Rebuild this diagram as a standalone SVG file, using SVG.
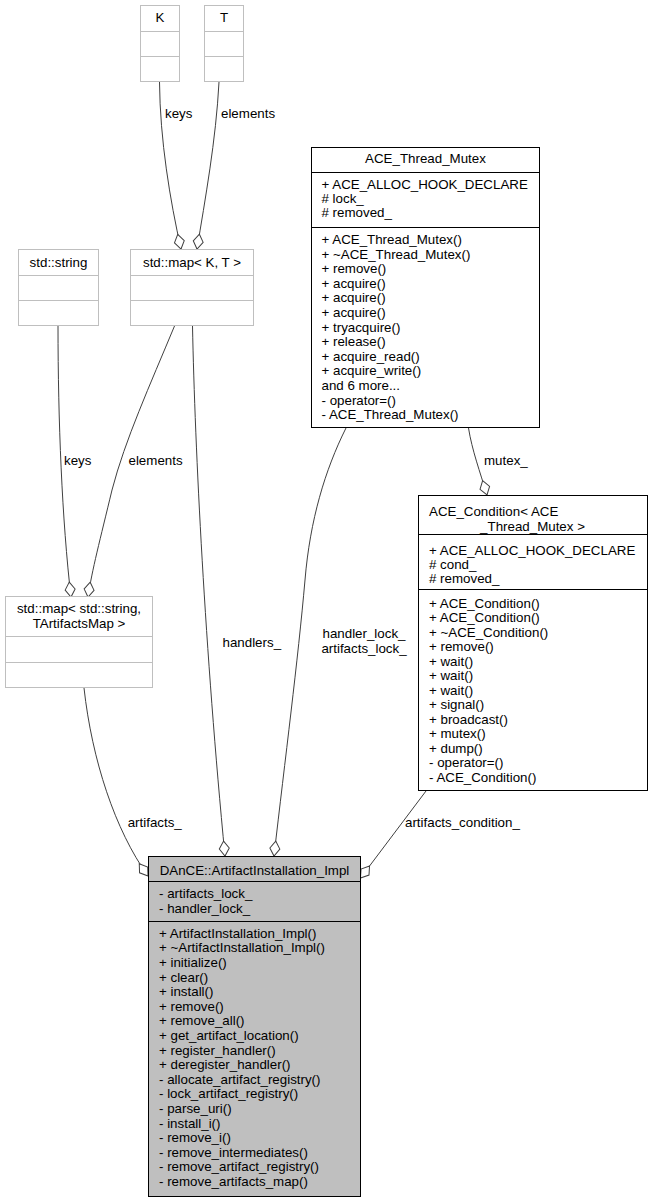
<svg xmlns="http://www.w3.org/2000/svg" width="653" height="1203" viewBox="0 0 653 1203">
<style>
text{font-family:"Liberation Sans",Arial,Helvetica,sans-serif;font-size:13.33px;fill:#000}
.c{text-anchor:middle}
.gb{fill:#fff;stroke:#bfbfbf;stroke-width:1}
.gl{stroke:#bfbfbf;stroke-width:1}
.bb{fill:#fff;stroke:#000;stroke-width:1}
.mb{fill:#bfbfbf;stroke:#000;stroke-width:1}
.bl{stroke:#000;stroke-width:1}
.e{fill:none;stroke:#404040;stroke-width:1;marker-end:url(#od)}
</style>
<defs>
<marker id="od" viewBox="-1 -6 17 12" refX="15" refY="0" markerWidth="17" markerHeight="12" orient="auto" markerUnits="userSpaceOnUse">
<path d="M0,0 L7.5,-5 L15,0 L7.5,5 Z" fill="#fff" stroke="#404040" stroke-width="1"/>
</marker>
</defs>
<rect width="653" height="1203" fill="#fff"/>

<g id="edges">
<path class="e" d="M159.5,82 C160,140 170,200 181,249"/>
<text x="165" y="118.3">keys</text>
<path class="e" d="M219,82 C216,140 205,200 197,249"/>
<text x="221" y="118.3">elements</text>
<path class="e" d="M58,326 C58,420 62,520 71,597"/>
<text x="64" y="465">keys</text>
<path class="e" d="M174.5,326 C150,385 125,440 112,490 C100,540 92,570 88,597"/>
<text x="128.5" y="465">elements</text>
<path class="e" d="M192.5,326 C195,450 205,650 225,856"/>
<text x="222.5" y="646.7">handlers_</text>
<path class="e" d="M346,428 C325,470 310,520 305,580 C298,660 285,760 274,856"/>
<text class="c" x="364" y="638.3">handler_lock_</text>
<text class="c" x="364" y="652.7">artifacts_lock_</text>
<path class="e" d="M468.5,428 C472,450 480,472 487,495"/>
<text x="484" y="465">mutex_</text>
<path class="e" d="M426,791 L360.5,878"/>
<text x="405" y="827.3">artifacts_condition_</text>
<path class="e" d="M84,688 C92,760 115,830 148,876"/>
<text x="127.7" y="826.7">artifacts_</text>
</g>

<g id="K">
<rect class="gb" x="140.5" y="5.5" width="39" height="76"/>
<line class="gl" x1="140.5" y1="31.5" x2="179.5" y2="31.5"/>
<line class="gl" x1="140.5" y1="56.5" x2="179.5" y2="56.5"/>
<text class="c" x="160" y="21.7">K</text>
</g>

<g id="T">
<rect class="gb" x="204.5" y="5.5" width="39" height="76"/>
<line class="gl" x1="204.5" y1="31.5" x2="243.5" y2="31.5"/>
<line class="gl" x1="204.5" y1="56.5" x2="243.5" y2="56.5"/>
<text class="c" x="224" y="21.7">T</text>
</g>

<g id="std_string">
<rect class="gb" x="18.5" y="249.5" width="80" height="76"/>
<line class="gl" x1="18.5" y1="275.5" x2="98.5" y2="275.5"/>
<line class="gl" x1="18.5" y1="300.5" x2="98.5" y2="300.5"/>
<text class="c" x="58.5" y="266.5">std::string</text>
</g>

<g id="std_map_KT">
<rect class="gb" x="130.5" y="249.5" width="123" height="76"/>
<line class="gl" x1="130.5" y1="275.5" x2="253.5" y2="275.5"/>
<line class="gl" x1="130.5" y1="300.5" x2="253.5" y2="300.5"/>
<text class="c" x="192" y="266.5">std::map&lt; K, T &gt;</text>
</g>

<g id="std_map_string">
<rect class="gb" x="5.5" y="596.5" width="147" height="91"/>
<line class="gl" x1="5.5" y1="636.5" x2="152.5" y2="636.5"/>
<line class="gl" x1="5.5" y1="662.5" x2="152.5" y2="662.5"/>
<text class="c" x="79" y="613.3">std::map&lt; std::string,</text>
<text class="c" x="79" y="627.7">TArtifactsMap &gt;</text>
</g>

<g id="ACE_Thread_Mutex">
<rect class="bb" x="311.5" y="147.5" width="228" height="280"/>
<line class="bl" x1="311.5" y1="172.5" x2="539.5" y2="172.5"/>
<line class="bl" x1="311.5" y1="227.5" x2="539.5" y2="227.5"/>
<text class="c" x="425.5" y="163.3">ACE_Thread_Mutex</text>
<text x="321.5" y="189.3">+ ACE_ALLOC_HOOK_DECLARE<tspan x="321.5" dy="14"># lock_</tspan><tspan x="321.5" dy="14"># removed_</tspan></text>
<text x="321.5" y="244">+ ACE_Thread_Mutex()<tspan x="321.5" dy="14.6">+ ~ACE_Thread_Mutex()</tspan><tspan x="321.5" dy="14.6">+ remove()</tspan><tspan x="321.5" dy="14.6">+ acquire()</tspan><tspan x="321.5" dy="14.6">+ acquire()</tspan><tspan x="321.5" dy="14.6">+ acquire()</tspan><tspan x="321.5" dy="14.6">+ tryacquire()</tspan><tspan x="321.5" dy="14.6">+ release()</tspan><tspan x="321.5" dy="14.6">+ acquire_read()</tspan><tspan x="321.5" dy="14.6">+ acquire_write()</tspan><tspan x="321.5" dy="14.6">and 6 more...</tspan><tspan x="321.5" dy="14.6">- operator=()</tspan><tspan x="321.5" dy="14.6">- ACE_Thread_Mutex()</tspan></text>
</g>

<g id="ACE_Condition">
<rect class="bb" x="418.5" y="495.5" width="229" height="295"/>
<line class="bl" x1="418.5" y1="534.5" x2="647.5" y2="534.5"/>
<line class="bl" x1="418.5" y1="589.5" x2="647.5" y2="589.5"/>
<text x="429" y="516">ACE_Condition&lt; ACE</text>
<text class="c" x="532.5" y="530.6">_Thread_Mutex &gt;</text>
<text x="429" y="555">+ ACE_ALLOC_HOOK_DECLARE<tspan x="429" dy="14"># cond_</tspan><tspan x="429" dy="14"># removed_</tspan></text>
<text x="429" y="607.7">+ ACE_Condition()<tspan x="429" dy="14.5">+ ACE_Condition()</tspan><tspan x="429" dy="14.5">+ ~ACE_Condition()</tspan><tspan x="429" dy="14.5">+ remove()</tspan><tspan x="429" dy="14.5">+ wait()</tspan><tspan x="429" dy="14.5">+ wait()</tspan><tspan x="429" dy="14.5">+ wait()</tspan><tspan x="429" dy="14.5">+ signal()</tspan><tspan x="429" dy="14.5">+ broadcast()</tspan><tspan x="429" dy="14.5">+ mutex()</tspan><tspan x="429" dy="14.5">+ dump()</tspan><tspan x="429" dy="14.5">- operator=()</tspan><tspan x="429" dy="14.5">- ACE_Condition()</tspan></text>
</g>

<g id="ArtifactInstallation_Impl">
<rect class="mb" x="148.5" y="856.5" width="212" height="340"/>
<line class="bl" x1="148.5" y1="881.5" x2="360.5" y2="881.5"/>
<line class="bl" x1="148.5" y1="921.5" x2="360.5" y2="921.5"/>
<text class="c" x="254.5" y="875">DAnCE::ArtifactInstallation_Impl</text>
<text x="159" y="898.3">- artifacts_lock_<tspan x="159" dy="15">- handler_lock_</tspan></text>
<text x="159" y="937.7">+ ArtifactInstallation_Impl()<tspan x="159" dy="14.6">+ ~ArtifactInstallation_Impl()</tspan><tspan x="159" dy="14.6">+ initialize()</tspan><tspan x="159" dy="14.6">+ clear()</tspan><tspan x="159" dy="14.6">+ install()</tspan><tspan x="159" dy="14.6">+ remove()</tspan><tspan x="159" dy="14.6">+ remove_all()</tspan><tspan x="159" dy="14.6">+ get_artifact_location()</tspan><tspan x="159" dy="14.6">+ register_handler()</tspan><tspan x="159" dy="14.6">+ deregister_handler()</tspan><tspan x="159" dy="14.6">- allocate_artifact_registry()</tspan><tspan x="159" dy="14.6">- lock_artifact_registry()</tspan><tspan x="159" dy="14.6">- parse_uri()</tspan><tspan x="159" dy="14.6">- install_i()</tspan><tspan x="159" dy="14.6">- remove_i()</tspan><tspan x="159" dy="14.6">- remove_intermediates()</tspan><tspan x="159" dy="14.6">- remove_artifact_registry()</tspan><tspan x="159" dy="14.6">- remove_artifacts_map()</tspan></text>
</g>
</svg>
